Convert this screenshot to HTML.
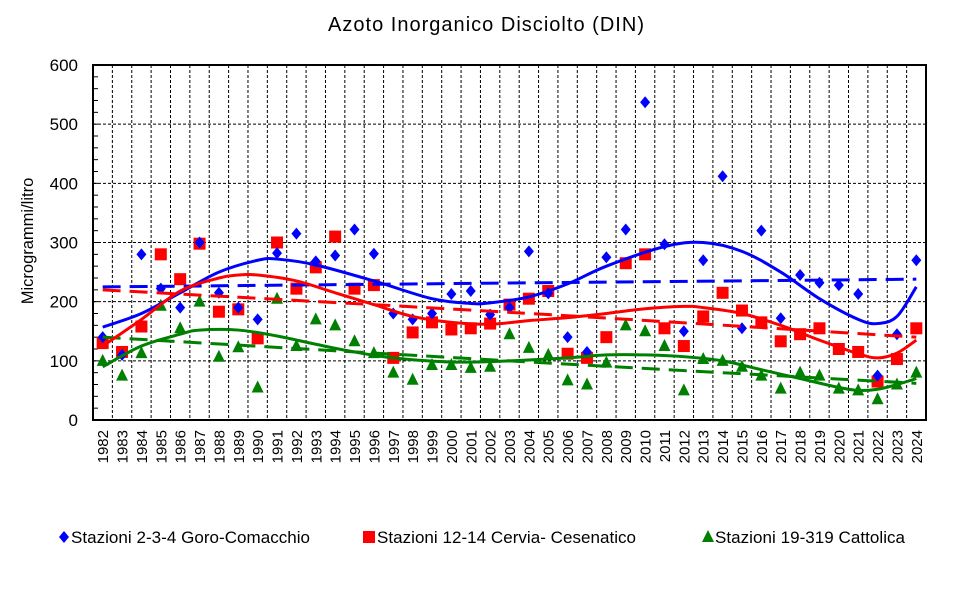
<!DOCTYPE html>
<html><head><meta charset="utf-8"><style>
html,body{margin:0;padding:0;background:#fff;}
svg{display:block;font-family:"Liberation Sans",Arial,sans-serif;}
</style></head><body>
<svg id="s" width="965" height="591" xmlns="http://www.w3.org/2000/svg">
<text x="486" y="31" font-size="20" text-anchor="middle" textLength="316">Azoto Inorganico  Disciolto (DIN)</text>
<text transform="translate(33,241) rotate(-90)" font-size="16.5" text-anchor="middle">Microgrammi/litro</text>
</svg>
<script>
var s=document.getElementById('s'),NS='http://www.w3.org/2000/svg';
function el(t,a,txt){var e=document.createElementNS(NS,t);for(var k in a)e.setAttribute(k,a[k]);if(txt!==undefined)e.textContent=txt;s.appendChild(e);return e;}
var L=93,R=926,T=65,B=420,N=43,cw=(R-L)/N;
function X(i){return L+cw*(i+0.5);} function Y(v){return B-(B-T)*v/600;}
for(var v=100;v<600;v+=100)el('line',{x1:L,x2:R,y1:Y(v),y2:Y(v),stroke:'#000','stroke-width':1,'stroke-dasharray':'3,2'});
for(var i=1;i<N;i++){var x=L+cw*i;el('line',{x1:x,x2:x,y1:T,y2:B,stroke:'#000','stroke-width':1,'stroke-dasharray':'3,2'});}
for(var v=0;v<=600;v+=20)el('line',{x1:L,x2:L+5,y1:Y(v),y2:Y(v),stroke:'#000','stroke-width':1});
for(var v=0;v<=600;v+=100)el('text',{x:78,y:Y(v)+6,'font-size':17,'text-anchor':'end'},v);
for(var i=0;i<N;i++){el('text',{transform:'translate('+(X(i)+5.5)+',430) rotate(-90)','font-size':15,'text-anchor':'end'},1982+i);}
var blue=[140,110,280,222,190,300,215,190,170,282,315,268,278,322,281,180,170,180,213,218,178,190,285,214,140,115,275,322,537,297,150,270,412,155,320,172,245,232,228,213,75,145,270];
var red=[130,115,158,280,238,298,183,187,138,300,222,258,310,222,228,105,148,165,153,155,163,195,205,218,112,105,140,265,280,155,125,175,215,185,165,133,145,155,120,115,65,103,155];
var green=[100,75,113,193,155,200,107,123,55,205,125,170,160,133,113,80,68,93,93,88,90,145,122,110,67,60,97,160,150,125,50,103,100,90,75,53,80,75,53,50,35,60,80];
function spline(pts){var d='M'+pts[0][0]+','+pts[0][1];for(var i=0;i<pts.length-1;i++){var p0=pts[i-1]||pts[i],p1=pts[i],p2=pts[i+1],p3=pts[i+2]||p2;var c1x=p1[0]+(p2[0]-p0[0])/6,c1y=p1[1]+(p2[1]-p0[1])/6,c2x=p2[0]-(p3[0]-p1[0])/6,c2y=p2[1]-(p3[1]-p1[1])/6;d+=' C'+c1x+','+c1y+' '+c2x+','+c2y+' '+p2[0]+','+p2[1];}return d;}
function curve(cp,col,dash){var pts=cp.map(function(p){return [X(p[0]-1982),Y(p[1])];});var a={d:spline(pts),fill:'none',stroke:col,'stroke-width':3};if(dash)a['stroke-dasharray']='18,9';el('path',a);}
function dia(x,y,c){el('path',{d:'M'+x+','+(y-6)+' L'+(x+5)+','+y+' L'+x+','+(y+6)+' L'+(x-5)+','+y+'Z',fill:c});}
function sq(x,y,c){el('rect',{x:x-6,y:y-6,width:12,height:12,fill:c});}
function tri(x,y,c){el('path',{d:'M'+x+','+(y-7)+' L'+(x+6)+','+(y+5)+' L'+(x-6)+','+(y+5)+'Z',fill:c});}
for(var i=0;i<N;i++)tri(X(i),Y(green[i]),'#008000');
for(var i=0;i<N;i++)sq(X(i),Y(red[i]),'#ff0000');
for(var i=0;i<N;i++)dia(X(i),Y(blue[i]),'#0000ff');
curve([[1982,225],[2024,238]],'#0000ff',1);
curve([[1982,220],[2003,182],[2024,140]],'#ff0000',1);
curve([[1982,140],[2003,100],[2024,62]],'#008000',1);
curve([[1982,157],[1984,180],[1986,215],[1988,250],[1990,270],[1991,272],[1993,262],[1996,235],[1999,205],[2001,197],[2002,198],[2004,208],[2006,230],[2008,260],[2011,293],[2013,300],[2015,285],[2017,250],[2019,205],[2021,170],[2022,163],[2023,175],[2024,225]],'#0000ff');
curve([[1982,125],[1984,170],[1986,218],[1988,240],[1989,245],[1990,245],[1992,235],[1994,215],[1996,195],[1998,175],[2000,165],[2002,162],[2004,168],[2006,173],[2008,180],[2010,188],[2012,192],[2013,190],[2015,180],[2017,160],[2019,135],[2021,112],[2022,105],[2023,113],[2024,135]],'#ff0000');
curve([[1982,90],[1984,125],[1986,145],[1987,152],[1989,152],[1991,142],[1993,128],[1995,115],[1997,105],[2000,98],[2003,100],[2006,105],[2008,110],[2010,110],[2012,107],[2014,100],[2016,85],[2018,70],[2020,55],[2021,50],[2022,52],[2023,60],[2024,70]],'#008000');
el('rect',{x:L,y:T,width:R-L,height:B-T,fill:'none',stroke:'#000','stroke-width':2});
dia(64,537,'#0000ff');el('text',{x:71,y:543,'font-size':17,textLength:239},'Stazioni 2-3-4 Goro-Comacchio');
sq(369,537,'#ff0000');el('text',{x:377,y:543,'font-size':17,textLength:259},'Stazioni 12-14 Cervia- Cesenatico');
tri(708,537,'#008000');el('text',{x:715,y:543,'font-size':17,textLength:190},'Stazioni 19-319 Cattolica');
</script>
</body></html>
